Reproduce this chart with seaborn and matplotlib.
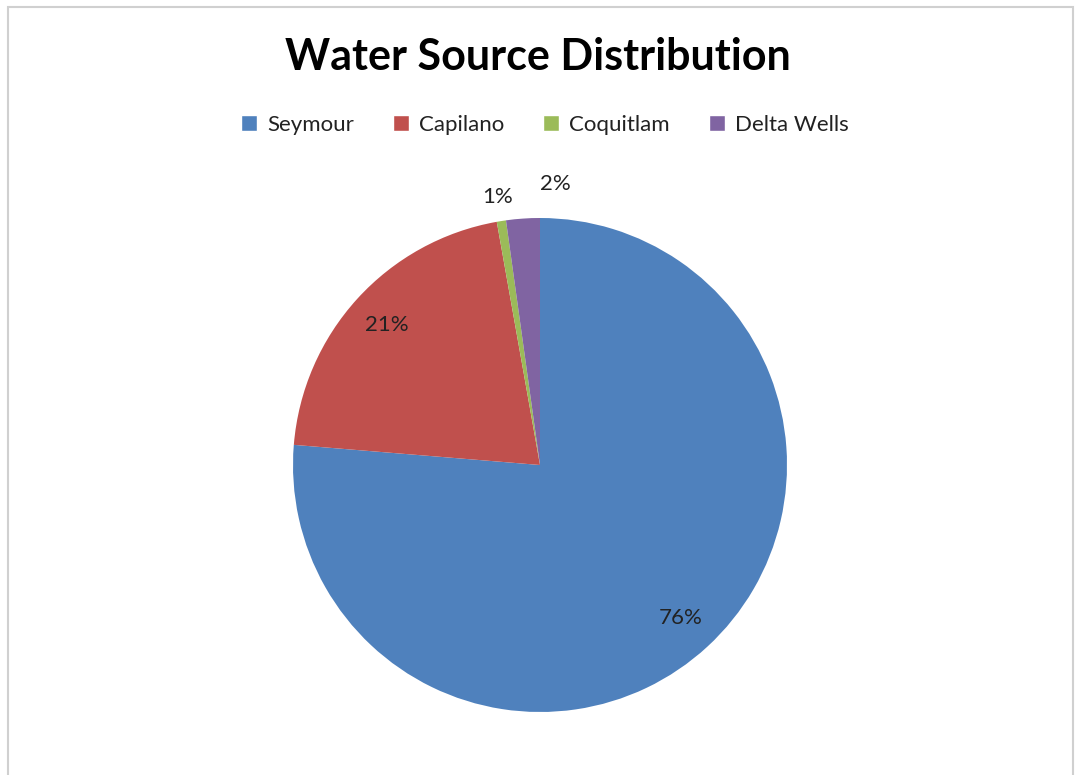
import matplotlib
matplotlib.use('Agg')
import matplotlib.pyplot as plt
import seaborn as sns
import numpy as np
from matplotlib.patches import Rectangle

# Data
sources = ['Seymour', 'Capilano', 'Coquitlam', 'Delta Wells']
shares = [76.3, 20.9, 0.6, 2.2]
colors = ['#4F81BD', '#C0504D', '#9BBB59', '#8064A2']

sns.set_theme(style='white')
plt.rcParams['font.family'] = ['Lato', 'DejaVu Sans']

fig = plt.figure(figsize=(10.75, 7.75), dpi=100)
fig.patch.set_facecolor('white')

# light gray frame like the exported chart area
fig.patches.append(Rectangle((8 / 1075, -0.01), 1065 / 1075, 1 - 7 / 775 + 0.01,
                             transform=fig.transFigure, fill=False,
                             edgecolor='#d0d0d0', linewidth=1.5))

# pie axes, square, centered at (540, 465) px with radius 247 px
W, H = 1075, 775
cx, cy, r = 540, 465, 247
ax = fig.add_axes([(cx - r) / W, (H - cy - r) / H, 2 * r / W, 2 * r / H])

wedges, texts, autotexts = ax.pie(
    shares, colors=colors, startangle=90, counterclock=False,
    autopct='%.0f%%', pctdistance=0.84,
    wedgeprops=dict(edgecolor='white', linewidth=0),
    textprops=dict(fontsize=16, color='#222222'))
ax.set_xlim(-1, 1)
ax.set_ylim(-1, 1)
ax.set_aspect('equal')

# small slices: labels sit outside the pie
for w, t, s in zip(wedges, autotexts, shares):
    if s < 5:
        ang = np.deg2rad((w.theta1 + w.theta2) / 2)
        dist = 1.1
        x, y = dist * np.cos(ang), dist * np.sin(ang)
        if t.get_text() == '2%':
            x += 0.14
            y += 0.04
        t.set_position((x, y))

fig.text(0.5, 1 - 57 / H, 'Water Source Distribution', ha='center', va='center',
         fontsize=31, fontweight='bold', color='black')

handles = [Rectangle((0, 0), 1, 1, facecolor=c) for c in colors]
leg = fig.legend(handles, sources, loc='center', bbox_to_anchor=(545 / W, 1 - 125 / H),
                 ncol=4, frameon=False, fontsize=16, handlelength=0.72, handleheight=0.72,
                 handletextpad=0.45, columnspacing=1.75)
for t in leg.get_texts():
    t.set_color('#222222')

fig.savefig('out.png', dpi=100, facecolor='white')
